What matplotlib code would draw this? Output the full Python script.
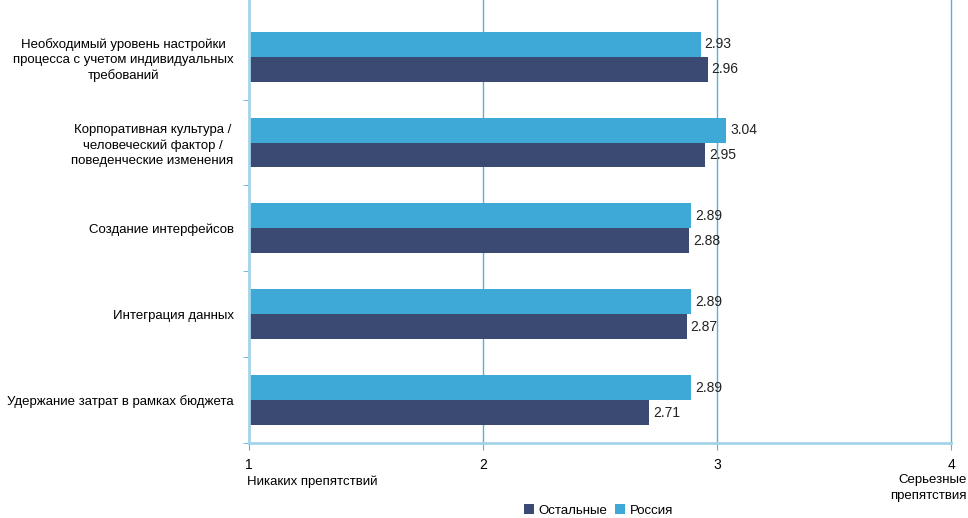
import numpy as np
import matplotlib.pyplot as plt

plt.rcParams['font.family'] = ['Liberation Sans', 'DejaVu Sans']

# ---------------- DATA ----------------
categories = [
    "Необходимый уровень настройки\nпроцесса с учетом индивидуальных\nтребований",
    "Корпоративная культура /\nчеловеческий фактор /\nповеденческие изменения",
    "Создание интерфейсов",
    "Интеграция данных",
    "Удержание затрат в рамках бюджета",
]
russia = [2.93, 3.04, 2.89, 2.89, 2.89]
others = [2.96, 2.95, 2.88, 2.87, 2.71]
x_ticks = [1, 2, 3, 4]
x_low_label = "Никаких препятствий"
x_high_label = "Серьезные\nпрепятствия"

C_RUS = "#3ea8d6"
C_OTH = "#3a4a72"
C_GRID = "#5aaedb"
C_AXIS = "#a3d4ea"
FS = 9.5

# ---------------- FIGURE ----------------
fig = plt.figure(figsize=(9.68, 5.18), dpi=100)
ax = fig.add_axes([249 / 968, 1 - 443 / 518, 702 / 968, 443 / 518])

n = len(categories)
y = np.arange(n)[::-1].astype(float)
h = 0.29

bars_r = ax.barh(y + h / 2, np.array(russia) - 1, left=1, height=h, color=C_RUS, label="Россия")
bars_o = ax.barh(y - h / 2, np.array(others) - 1, left=1, height=h, color=C_OTH, label="Остальные")

for yy, v in zip(y, russia):
    ax.text(v + 0.017, yy + h / 2, f"{v:.2f}", va="center", ha="left", fontsize=FS + 0.5, color="#222222")
for yy, v in zip(y, others):
    ax.text(v + 0.017, yy - h / 2, f"{v:.2f}", va="center", ha="left", fontsize=FS + 0.5, color="#222222")

ax.set_xlim(1, 4)
ax.set_ylim(-0.5, n - 0.5 + 0.16)

# vertical gridlines
for xv in x_ticks[1:]:
    ax.axvline(xv, color=C_GRID, lw=1, zorder=0, clip_on=False)

ax.set_xticks(x_ticks)
ax.set_xticklabels([str(t) for t in x_ticks], fontsize=FS + 0.5)
ax.tick_params(axis="x", length=5, color=C_GRID, pad=6)

# category labels with group separators on the left axis
ax.set_yticks(y)
ax.set_yticklabels(categories, fontsize=FS, ha="right", multialignment="center", linespacing=1.35)
ax.set_yticks(np.arange(n) - 0.5, minor=True)
ax.tick_params(axis="y", which="major", length=0, pad=11)
ax.tick_params(axis="y", which="minor", length=4, color=C_GRID)

for side in ["top", "right"]:
    ax.spines[side].set_visible(False)
ax.spines["left"].set_color(C_AXIS)
ax.spines["left"].set_linewidth(2)
ax.spines["bottom"].set_color(C_AXIS)
ax.spines["bottom"].set_linewidth(2)

# scale end descriptions under the axis
ax.annotate(x_low_label, xy=(1, -0.5), xytext=(-2, -32), textcoords="offset pixels",
            ha="left", va="top", fontsize=FS)
ax.annotate(x_high_label, xy=(4, -0.5), xytext=(16, -31), textcoords="offset pixels",
            ha="right", va="top", fontsize=FS, multialignment="right", linespacing=1.5)

handles = [bars_o, bars_r]
fig.legend(handles, ["Остальные", "Россия"], loc="lower center", bbox_to_anchor=(0.618, -0.021),
           ncol=2, frameon=False, fontsize=FS, handlelength=0.8, handleheight=0.8,
           handletextpad=0.3, columnspacing=0.6)

fig.savefig("out.png", dpi=100)
